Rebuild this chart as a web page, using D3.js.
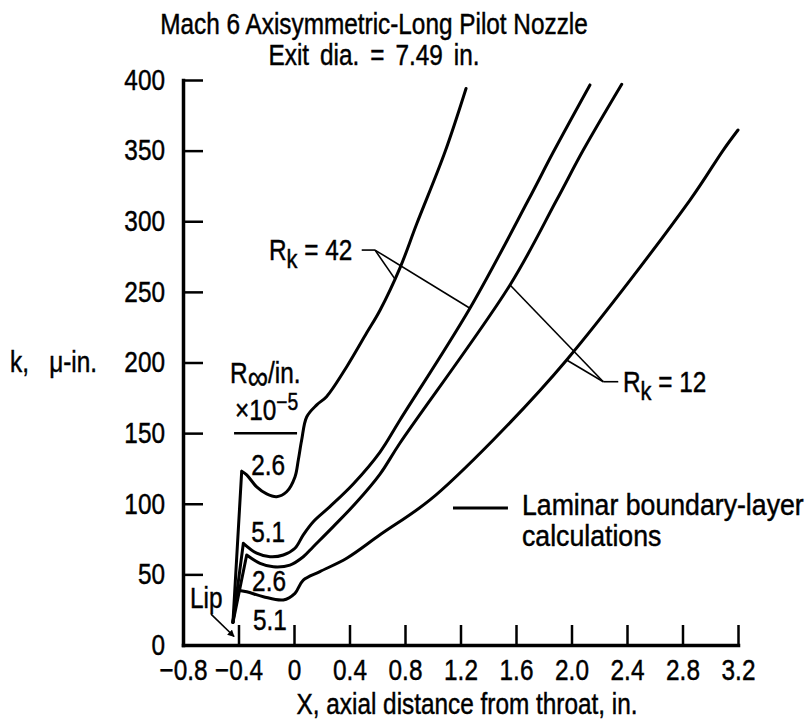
<!DOCTYPE html>
<html>
<head>
<meta charset="utf-8">
<script src="https://cdn.jsdelivr.net/npm/d3@7"></script>
<style>
  body { margin: 0; background: #fff; }
  svg { display: block; background: #fff; }
  text { font-family: "Liberation Sans", Arial, sans-serif; fill: #000; stroke: #000; stroke-width: 0.45px; }
</style>
</head>
<body>
<svg id="chart" width="812" height="727"></svg>
<script>
var xTicks = [-0.8, -0.4, 0, 0.4, 0.8, 1.2, 1.6, 2.0, 2.4, 2.8, 3.2];
var yTicks = [0, 50, 100, 150, 200, 250, 300, 350, 400];
var titleLines = ["Mach 6 Axisymmetric-Long Pilot Nozzle", "Exit dia. = 7.49 in."];
var xTitle = "X, axial distance from throat, in.";
var yTitle = "k,  \u03bc-in.";
var legendLines = ["Laminar boundary-layer", "calculations"];

// [X, k]; Rk = 42
var rk42Re26 = [[-0.44, 16], [-0.377, 123], [-0.341, 120.4], [-0.269, 112], [-0.197, 107], [-0.125, 105],
    [-0.053, 108.5], [0.007, 119], [0.031, 131], [0.055, 145], [0.092, 161.6], [0.164, 170], [0.236, 176],
    [0.38, 197], [0.524, 221], [0.62, 237], [0.764, 267], [0.884, 298], [1.088, 349], [1.24, 394]];
var rk42Re51 = [[-0.44, 16], [-0.365, 72], [-0.269, 65], [-0.173, 62.5], [-0.077, 63.7], [0.007, 68.5],
    [0.067, 78], [0.139, 87.3], [0.259, 98], [0.427, 114], [0.62, 136.6], [0.764, 159.3], [1.268, 238.4],
    [1.689, 315], [1.869, 349], [2.133, 396.5]];
// Rk = 12
var rk12Re26 = [[-0.44, 16], [-0.341, 63.7], [-0.245, 57.8], [-0.149, 55.4], [-0.029, 56.6], [0.067, 62.5],
    [0.139, 69.6], [0.283, 83.8], [0.452, 101.2], [0.62, 121], [0.764, 143], [1.557, 254.9], [1.893, 315],
    [2.085, 350.4], [2.362, 397]];
var rk12Re51 = [[-0.44, 16], [-0.413, 39], [-0.341, 37.7], [-0.221, 34.2], [-0.077, 31.9], [0.007, 36.6],
    [0.067, 46], [0.187, 52], [0.38, 61.4], [0.62, 78], [0.98, 102.7], [1.434, 145], [1.965, 201.8],
    [2.854, 315], [3.094, 350.4], [3.2, 364.6]];
var seriesList = [rk42Re26, rk42Re51, rk12Re26, rk12Re51];
var reLabels = ["2.6", "5.1", "2.6", "5.1"];
var reLabelAt = [[-0.187, 120.4], [-0.187, 73], [-0.18, 38.2], [-0.173, 10.6]];

var fs = 29;
var squeeze = 0.84; // lettering on the original is condensed
var svg = d3.select("#chart"),
    margin = {top: 80, right: 74, bottom: 82, left: 183},
    width = +svg.attr("width") - margin.left - margin.right,
    height = +svg.attr("height") - margin.top - margin.bottom;

var xScale = d3.scaleLinear().domain([-0.8, 3.2]).range([0, width]);
var yScale = d3.scaleLinear().domain([0, 400]).range([height, 0]);

var g = svg.append("g")
    .attr("transform", "translate(" + margin.left + "," + margin.top + ")");

// titles
svg.selectAll(".title")
    .data(titleLines)
    .enter().append("text")
    .attr("class", "title")
    .attr("x", 374)
    .attr("y", function (d, i) { return 34 + i * 31; })
    .attr("text-anchor", "middle")
    .attr("font-size", fs)
    .attr("word-spacing", function (d, i) { return i ? 5 : 0; })
    .text(function (d) { return d; });

// axes
var xAxis = d3.axisBottom(xScale)
    .tickValues(xTicks)
    .tickSizeInner(-20)
    .tickSizeOuter(0)
    .tickPadding(14)
    .tickFormat(function (d) { return d === 0 ? "0" : d3.format(".1f")(d); });
var yAxis = d3.axisLeft(yScale)
    .tickValues(yTicks)
    .tickSizeInner(-20)
    .tickSizeOuter(0)
    .tickPadding(18)
    .tickFormat(d3.format("d"));

var xg = g.append("g").attr("transform", "translate(0," + height + ")").call(xAxis);
var yg = g.append("g").call(yAxis);
[xg, yg].forEach(function (a) {
    a.attr("font-family", null).attr("font-size", fs);
    a.select(".domain").attr("stroke-width", 3.5).attr("stroke-linecap", "square");
    a.selectAll(".tick line").attr("stroke-width", 2.5);
});

svg.append("text")
    .attr("x", 467)
    .attr("y", 714)
    .attr("text-anchor", "middle")
    .attr("font-size", fs)
    .text(xTitle);
svg.append("text")
    .attr("x", 10)
    .attr("y", 372)
    .attr("font-size", fs)
    .attr("word-spacing", 4)
    .style("white-space", "pre")
    .text(yTitle);

// curves: straight rise from the lip, smooth after the first corner
var straight = d3.line()
    .x(function (d) { return xScale(d[0]); })
    .y(function (d) { return yScale(d[1]); });
var smooth = d3.line()
    .x(function (d) { return xScale(d[0]); })
    .y(function (d) { return yScale(d[1]); })
    .curve(d3.curveCatmullRom.alpha(0.5));

g.selectAll(".curve")
    .data(seriesList)
    .enter().append("path")
    .attr("class", "curve")
    .attr("fill", "none")
    .attr("stroke", "#000")
    .attr("stroke-width", 3)
    .attr("stroke-linejoin", "round")
    .attr("stroke-linecap", "round")
    .attr("d", function (d) { return straight(d.slice(0, 2)) + smooth(d.slice(1)); });

// R_inf labels
g.selectAll(".relabel")
    .data(reLabels)
    .enter().append("text")
    .attr("class", "relabel")
    .attr("x", function (d, i) { return xScale(reLabelAt[i][0]); })
    .attr("y", function (d, i) { return yScale(reLabelAt[i][1]); })
    .attr("text-anchor", "middle")
    .attr("font-size", fs)
    .text(function (d) { return d; });

var rinf = g.append("text")
    .attr("x", xScale(-0.461))
    .attr("y", yScale(185.5))
    .attr("font-size", fs);
rinf.append("tspan").text("R");
rinf.append("tspan").attr("dy", 6).attr("font-size", 34).text("\u221e");
rinf.append("tspan").attr("dy", -6).text("/in.");

var pow = g.append("text")
    .attr("x", xScale(-0.425))
    .attr("y", yScale(159.3))
    .attr("font-size", fs);
pow.append("tspan").text("\u00d710");
pow.append("tspan").attr("dy", -10).attr("font-size", 23).text("\u22125");

g.append("line")
    .attr("x1", xScale(-0.432)).attr("x2", xScale(0.022))
    .attr("y1", yScale(150)).attr("y2", yScale(150))
    .attr("stroke", "#000").attr("stroke-width", 2.5);

// Lip pointer
svg.append("defs").append("marker")
    .attr("id", "arrow")
    .attr("viewBox", "0 0 10 10")
    .attr("refX", 9).attr("refY", 5)
    .attr("markerWidth", 7).attr("markerHeight", 7)
    .attr("markerUnits", "userSpaceOnUse")
    .attr("orient", "auto")
    .append("path").attr("d", "M0,0L10,5L0,10z").attr("fill", "#000");

g.append("text")
    .attr("x", xScale(-0.75))
    .attr("y", yScale(26.2))
    .attr("font-size", fs)
    .text("Lip");
g.append("line")
    .attr("x1", xScale(-0.598)).attr("y1", yScale(21.9))
    .attr("x2", xScale(-0.432)).attr("y2", yScale(6))
    .attr("stroke", "#000").attr("stroke-width", 1.6)
    .attr("marker-end", "url(#arrow)");

// Rk call-outs
function callout(corner, dashEnd, targets) {
    var pts = [[dashEnd, corner]].concat(targets.map(function (t) { return [corner, t]; }));
    pts.forEach(function (p) {
        g.append("line")
            .attr("x1", xScale(p[0][0])).attr("y1", yScale(p[0][1]))
            .attr("x2", xScale(p[1][0])).attr("y2", yScale(p[1][1]))
            .attr("stroke", "#000").attr("stroke-width", 1.6);
    });
}
function rkText(x, y, anchor, value) {
    var t = g.append("text")
        .attr("x", xScale(x)).attr("y", yScale(y))
        .attr("text-anchor", anchor)
        .attr("font-size", fs);
    t.append("tspan").text("R");
    t.append("tspan").attr("dy", 8).attr("font-size", 26).text("k");
    t.append("tspan").attr("dy", -8).text(" = " + value);
}

callout([0.584, 279.6], [0.488, 279.6], [[0.728, 259], [1.268, 238.4]]);
rkText(0.42, 272.6, "end", "42");
callout([2.229, 186.4], [2.337, 186.4], [[1.557, 254.9], [1.965, 201.8]]);
rkText(2.371, 179, "start", "12");

// legend
g.append("line")
    .attr("x1", xScale(1.146)).attr("x2", xScale(1.542))
    .attr("y1", yScale(97)).attr("y2", yScale(97))
    .attr("stroke", "#000").attr("stroke-width", 3);
g.selectAll(".legend")
    .data(legendLines)
    .enter().append("text")
    .attr("class", "legend")
    .attr("data-squeeze", 0.92)
    .attr("x", xScale(1.643))
    .attr("y", function (d, i) { return yScale(92) + i * 31; })
    .attr("font-size", fs)
    .text(function (d) { return d; });

// narrow every text around its own anchor point
svg.selectAll("text").each(function () {
    var t = d3.select(this);
    var x = +t.attr("x") || 0, y = +t.attr("y") || 0;
    var s = +t.attr("data-squeeze") || squeeze;
    t.attr("x", null).attr("y", null)
        .attr("transform", "translate(" + x + "," + y + ") scale(" + s + ",1)");
});
</script>
</body>
</html>
